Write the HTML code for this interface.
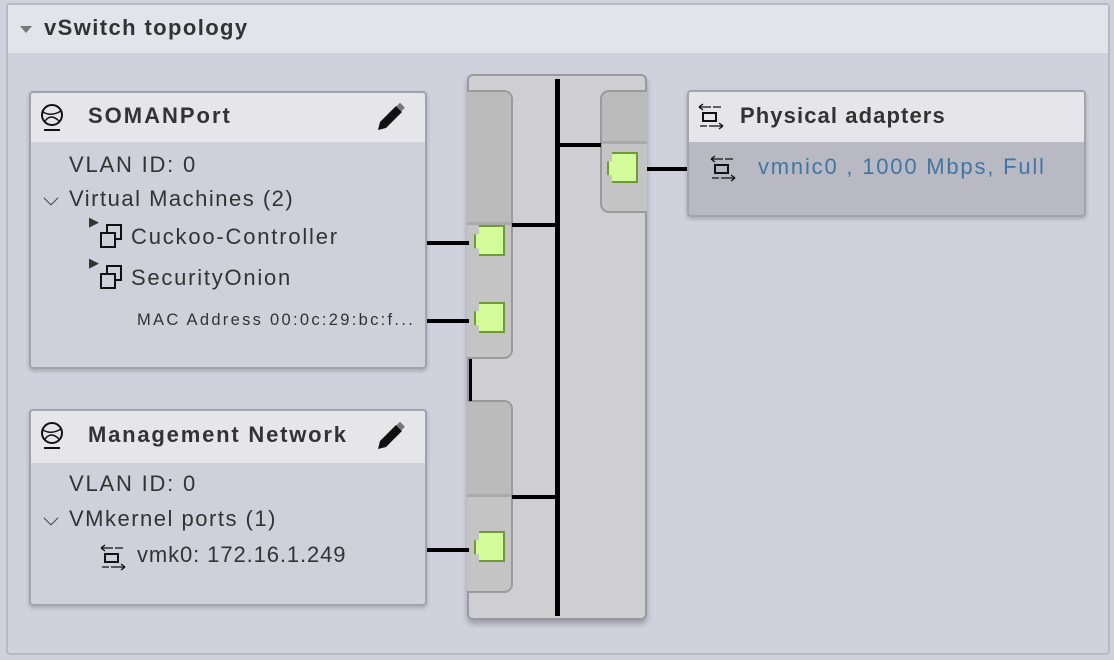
<!DOCTYPE html>
<html><head><style>
*{margin:0;padding:0;box-sizing:border-box}
body{width:1114px;height:660px;background:#d0d1dd;font-family:"Liberation Sans",sans-serif;position:relative;overflow:hidden;color:#333}
.a{position:absolute}
.box{position:absolute;background:#d0d0da;border:2px solid #a3a3ab;border-radius:4px;box-shadow:0 2px 4px rgba(0,0,0,.2);overflow:hidden}
.hd{position:absolute;left:0;right:0;top:0;height:49px;background:#e6e6ea}
.t{position:absolute;white-space:nowrap}
.n{font-size:22px;letter-spacing:1.5px}
.ln{position:absolute;background:#000}
.port{position:absolute;width:31px;height:31px;background:#d4fc9a;border:2px solid #6e9a3c;clip-path:polygon(5px 0,100% 0,100% 100%,5px 100%,5px 75%,0 75%,0 30%,5px 30%)}
</style></head><body>
<div class="a" style="left:6px;top:3px;width:1104px;height:652px;border:2px solid #b8b8c4;border-radius:4px"></div>
<div class="a" style="left:8px;top:5px;width:1100px;height:48px;background:#e3e4ea"></div>
<div class="a" style="left:20px;top:26px;width:0;height:0;border-left:6px solid transparent;border-right:6px solid transparent;border-top:7px solid #777"></div>
<div class="t" style="left:44px;top:15px;font-size:22px;font-weight:bold;color:#333;letter-spacing:1.4px">vSwitch topology</div>

<!-- SOMANPort -->
<div class="box" style="left:29px;top:91px;width:398px;height:278px">
<div class="hd"></div>
<svg class="a" style="left:8px;top:10px" width="28" height="30" viewBox="0 0 28 30"><circle cx="13" cy="12" r="10" fill="none" stroke="#111" stroke-width="2"/><path d="M4 9 Q12 14 22 8 M6 18 Q12 10 20 18" fill="none" stroke="#111" stroke-width="1.5"/><line x1="5" y1="27" x2="21" y2="27" stroke="#111" stroke-width="2"/></svg>
<div class="t" style="left:57px;top:10px;font-size:22px;font-weight:bold;letter-spacing:2px">SOMANPort</div>
<svg class="a" style="left:345px;top:9px" width="32" height="30" viewBox="0 0 32 30"><path d="M2 28 L4 20 L20 4 L26 10 L10 26 Z" fill="#111"/><rect x="21" y="2" width="7" height="5" transform="rotate(45 24 5)" fill="#777"/></svg>
<div class="t n" style="left:38px;top:59px;letter-spacing:1.8px">VLAN ID: 0</div>
<div class="t" style="left:12px;top:94px;font-size:21px">⌵</div>
<div class="t n" style="left:38px;top:93px">Virtual Machines (2)</div>
<div class="t" style="left:58px;top:121px;font-size:13px">▶</div>
<div class="t" style="left:68px;top:130px;width:22px;height:24px"><svg width="24" height="26"><rect x="8" y="2" width="14" height="14" fill="none" stroke="#111" stroke-width="2"/><rect x="2" y="10" width="14" height="14" fill="#d0d0da" stroke="#111" stroke-width="2"/></svg></div>
<div class="t n" style="left:100px;top:131px;letter-spacing:1.8px">Cuckoo-Controller</div>
<div class="t" style="left:58px;top:162px;font-size:13px">▶</div>
<div class="t" style="left:68px;top:171px"><svg width="24" height="26"><rect x="8" y="2" width="14" height="14" fill="none" stroke="#111" stroke-width="2"/><rect x="2" y="10" width="14" height="14" fill="#d0d0da" stroke="#111" stroke-width="2"/></svg></div>
<div class="t n" style="left:100px;top:172px;letter-spacing:1.75px">SecurityOnion</div>
<div class="t" style="left:106px;top:218px;font-size:16.5px;letter-spacing:2.3px">MAC Address 00:0c:29:bc:f...</div>
</div>

<!-- Management -->
<div class="box" style="left:29px;top:409px;width:398px;height:197px">
<div class="hd" style="height:52px"></div>
<svg class="a" style="left:8px;top:10px" width="28" height="30" viewBox="0 0 28 30"><circle cx="13" cy="12" r="10" fill="none" stroke="#111" stroke-width="2"/><path d="M4 9 Q12 14 22 8 M6 18 Q12 10 20 18" fill="none" stroke="#111" stroke-width="1.5"/><line x1="5" y1="27" x2="21" y2="27" stroke="#111" stroke-width="2"/></svg>
<div class="t" style="left:57px;top:11px;font-size:22px;font-weight:bold;letter-spacing:1.8px">Management Network</div>
<svg class="a" style="left:345px;top:10px" width="32" height="30" viewBox="0 0 32 30"><path d="M2 28 L4 20 L20 4 L26 10 L10 26 Z" fill="#111"/><rect x="21" y="2" width="7" height="5" transform="rotate(45 24 5)" fill="#777"/></svg>
<div class="t n" style="left:38px;top:60px;letter-spacing:1.8px">VLAN ID: 0</div>
<div class="t" style="left:12px;top:96px;font-size:21px">⌵</div>
<div class="t n" style="left:38px;top:95px">VMkernel ports (1)</div>
<svg class="a" style="left:68px;top:132px" width="28" height="28"><path d="M2 5 H14 M2 5 L6 2 M2 5 L6 8 M16 5 H24" stroke="#111" fill="none" stroke-width="1.3"/><rect x="6" y="11" width="13" height="8" fill="none" stroke="#111" stroke-width="2"/><path d="M3 24 H10 M12 24 H26 M26 24 L22 21 M26 24 L22 27" stroke="#111" fill="none" stroke-width="1.3"/></svg>
<div class="t n" style="left:106px;top:131px;letter-spacing:0.9px">vmk0: 172.16.1.249</div>
</div>

<!-- switch -->
<div class="a" style="left:467px;top:74px;width:180px;height:546px;background:#cfcfd3;border:2px solid #9a9a9e;border-radius:6px;box-shadow:0 4px 6px rgba(0,0,0,.25)"></div>
<div class="a" style="left:467px;top:90px;width:46px;height:269px;background:#c4c4c4;border:2px solid #9a9a9e;border-left:none;border-radius:0 9px 9px 0;overflow:hidden"><div class="a" style="left:0;top:0;width:44px;height:133px;background:#bbb;border-bottom:3px solid #aaa"></div></div>
<div class="a" style="left:467px;top:400px;width:46px;height:193px;background:#c4c4c4;border:2px solid #9a9a9e;border-left:none;border-radius:0 9px 9px 0;overflow:hidden"><div class="a" style="left:0;top:0;width:44px;height:95px;background:#bbb;border-bottom:3px solid #aaa"></div></div>
<div class="a" style="left:600px;top:90px;width:47px;height:123px;background:#c4c4c4;border:2px solid #9a9a9e;border-right:none;border-radius:9px 0 0 9px;overflow:hidden"><div class="a" style="left:0;top:0;width:45px;height:52px;background:#bbb;border-bottom:3px solid #aaa"></div></div>
<div class="ln" style="left:555px;top:79px;width:5px;height:537px"></div>
<div class="ln" style="left:512px;top:223px;width:43px;height:4px"></div>
<div class="ln" style="left:560px;top:143px;width:41px;height:4px"></div>
<div class="ln" style="left:512px;top:495px;width:43px;height:4px"></div>
<div class="ln" style="left:469px;top:359px;width:3px;height:42px"></div>
<div class="ln" style="left:427px;top:241px;width:42px;height:4px"></div>
<div class="ln" style="left:427px;top:319px;width:42px;height:4px"></div>
<div class="ln" style="left:427px;top:548px;width:42px;height:4px"></div>
<div class="ln" style="left:647px;top:167px;width:41px;height:4px"></div>
<div class="port" style="left:474px;top:225px"></div>
<div class="port" style="left:474px;top:302px"></div>
<div class="port" style="left:474px;top:531px"></div>
<div class="port" style="left:607px;top:152px"></div>

<!-- physical adapters -->
<div class="box" style="left:687px;top:90px;width:399px;height:127px;background:#b9b9c3">
<div class="hd" style="height:50px"></div>
<svg class="a" style="left:8px;top:10px" width="28" height="28"><path d="M2 5 H14 M2 5 L6 2 M2 5 L6 8 M16 5 H24" stroke="#111" fill="none" stroke-width="1.3"/><rect x="6" y="11" width="13" height="8" fill="none" stroke="#111" stroke-width="2"/><path d="M3 24 H10 M12 24 H26 M26 24 L22 21 M26 24 L22 27" stroke="#111" fill="none" stroke-width="1.3"/></svg>
<div class="t" style="left:51px;top:11px;font-size:22px;font-weight:bold;letter-spacing:1.1px">Physical adapters</div>
<svg class="a" style="left:20px;top:62px" width="28" height="28"><path d="M2 5 H14 M2 5 L6 2 M2 5 L6 8 M16 5 H24" stroke="#111" fill="none" stroke-width="1.3"/><rect x="6" y="11" width="13" height="8" fill="none" stroke="#111" stroke-width="2"/><path d="M3 24 H10 M12 24 H26 M26 24 L22 21 M26 24 L22 27" stroke="#111" fill="none" stroke-width="1.3"/></svg>
<div class="t" style="left:69px;top:62px;font-size:22px;letter-spacing:1.8px;color:#3f76a4">vmnic0 , 1000 Mbps, Full</div>
</div>
</body></html>
